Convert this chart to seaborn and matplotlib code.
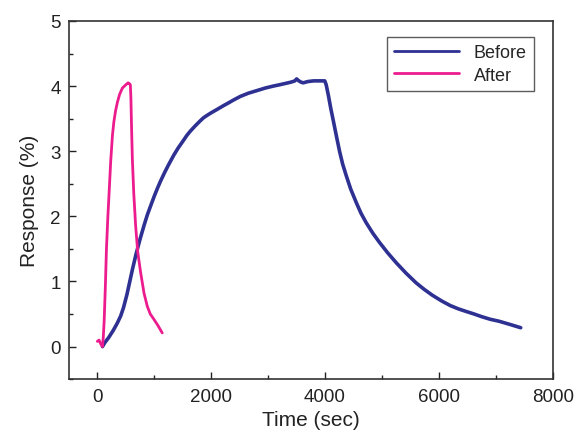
import matplotlib
matplotlib.use("Agg")
import matplotlib.pyplot as plt
import seaborn as sns
import pandas as pd
from matplotlib.ticker import MultipleLocator

# --- Data ---
before_time = [90, 130, 200, 280, 350, 410, 460, 520, 570, 615, 680, 750, 820,
               877, 940, 1000, 1060, 1110, 1180, 1250, 1343, 1420, 1500, 1570,
               1635, 1720, 1800, 1860, 1927, 2000, 2100, 2217, 2300, 2400, 2509,
               2650, 2801, 2950, 3091, 3200, 3300, 3400, 3470, 3500, 3540, 3580,
               3616, 3700, 3800, 3907, 3995, 4020, 4060, 4100, 4140, 4200, 4257,
               4310, 4374, 4450, 4549, 4630, 4724, 4840, 4956, 5100, 5248, 5420,
               5598, 5740, 5883, 6050, 6200, 6340, 6477, 6620, 6750, 6900, 7054,
               7250, 7437]
before_resp = [0.0, 0.06, 0.14, 0.25, 0.36, 0.47, 0.6, 0.8, 1.0, 1.18, 1.42, 1.65,
               1.86, 2.02, 2.17, 2.31, 2.44, 2.54, 2.67, 2.79, 2.94, 3.05, 3.15,
               3.24, 3.31, 3.39, 3.46, 3.51, 3.55, 3.59, 3.64, 3.70, 3.74, 3.79,
               3.84, 3.89, 3.93, 3.97, 4.0, 4.02, 4.04, 4.06, 4.08, 4.11, 4.08,
               4.06, 4.05, 4.07, 4.08, 4.08, 4.08, 4.02, 3.85, 3.66, 3.49, 3.23,
               2.99, 2.80, 2.62, 2.42, 2.21, 2.05, 1.90, 1.74, 1.60, 1.44, 1.29,
               1.13, 0.98, 0.88, 0.79, 0.70, 0.63, 0.58, 0.54, 0.50, 0.46, 0.42,
               0.39, 0.34, 0.29]

after_time = [0, 30, 60, 90, 105, 120, 140, 160, 185, 207, 235, 265, 290, 320,
              352, 390, 440, 500, 540, 560, 580, 590, 600, 615, 640, 673, 710,
              760, 820, 877, 930, 993, 1060, 1140]
after_resp = [0.08, 0.1, 0.04, 0.0, 0.15, 0.4, 0.9, 1.5, 2.0, 2.37, 2.85, 3.24,
              3.45, 3.62, 3.75, 3.87, 3.97, 4.02, 4.05, 4.04, 4.02, 3.8, 3.4,
              2.88, 2.35, 1.85, 1.45, 1.14, 0.82, 0.62, 0.5, 0.42, 0.33, 0.21]

labels = ["Before", "After"]
colors = ["#2E3192", "#EC1C8E"]
widths = [2.6, 2.0]

df = pd.concat([
    pd.DataFrame({"time": before_time, "resp": before_resp, "series": labels[0]}),
    pd.DataFrame({"time": after_time, "resp": after_resp, "series": labels[1]}),
])

sns.set_style("ticks")
plt.rcParams["font.family"] = ["Liberation Sans", "DejaVu Sans"]

fig = plt.figure(figsize=(5.74, 4.39), dpi=100)
ax = fig.add_axes([0.120, 0.134, 0.843, 0.816])

sns.lineplot(data=df, x="time", y="resp", hue="series", palette=colors,
             hue_order=labels, sort=False, estimator=None, ax=ax)
for line, w in zip(ax.lines, widths):
    line.set_linewidth(w)
    line.set_solid_joinstyle("round")

ax.set_xlim(-500, 8000)
ax.set_ylim(-0.5, 5)
ax.xaxis.set_major_locator(MultipleLocator(2000))
ax.xaxis.set_minor_locator(MultipleLocator(1000))
ax.yaxis.set_major_locator(MultipleLocator(1))
ax.yaxis.set_minor_locator(MultipleLocator(0.5))
ax.tick_params(which="both", direction="in", top=False, right=False,
               labelsize=13.5, colors="#222222", width=1)
ax.tick_params(which="major", length=5, pad=6)
ax.tick_params(which="minor", length=3)
for sp in ax.spines.values():
    sp.set_color("#333333")
    sp.set_linewidth(1.2)

ax.set_xlabel("Time (sec)", fontsize=15, color="#222222", labelpad=4)
ax.set_ylabel("Response (%)", fontsize=15, color="#222222", labelpad=8)

leg = ax.legend(loc="upper right", fontsize=13, frameon=True, fancybox=False,
                edgecolor="#333333", handlelength=3.6, borderpad=0.4,
                labelspacing=0.3, bbox_to_anchor=(0.98, 0.98))
leg.get_frame().set_linewidth(1.0)
for line in leg.get_lines():
    line.set_linewidth(2)

plt.savefig("out.png", dpi=100)
